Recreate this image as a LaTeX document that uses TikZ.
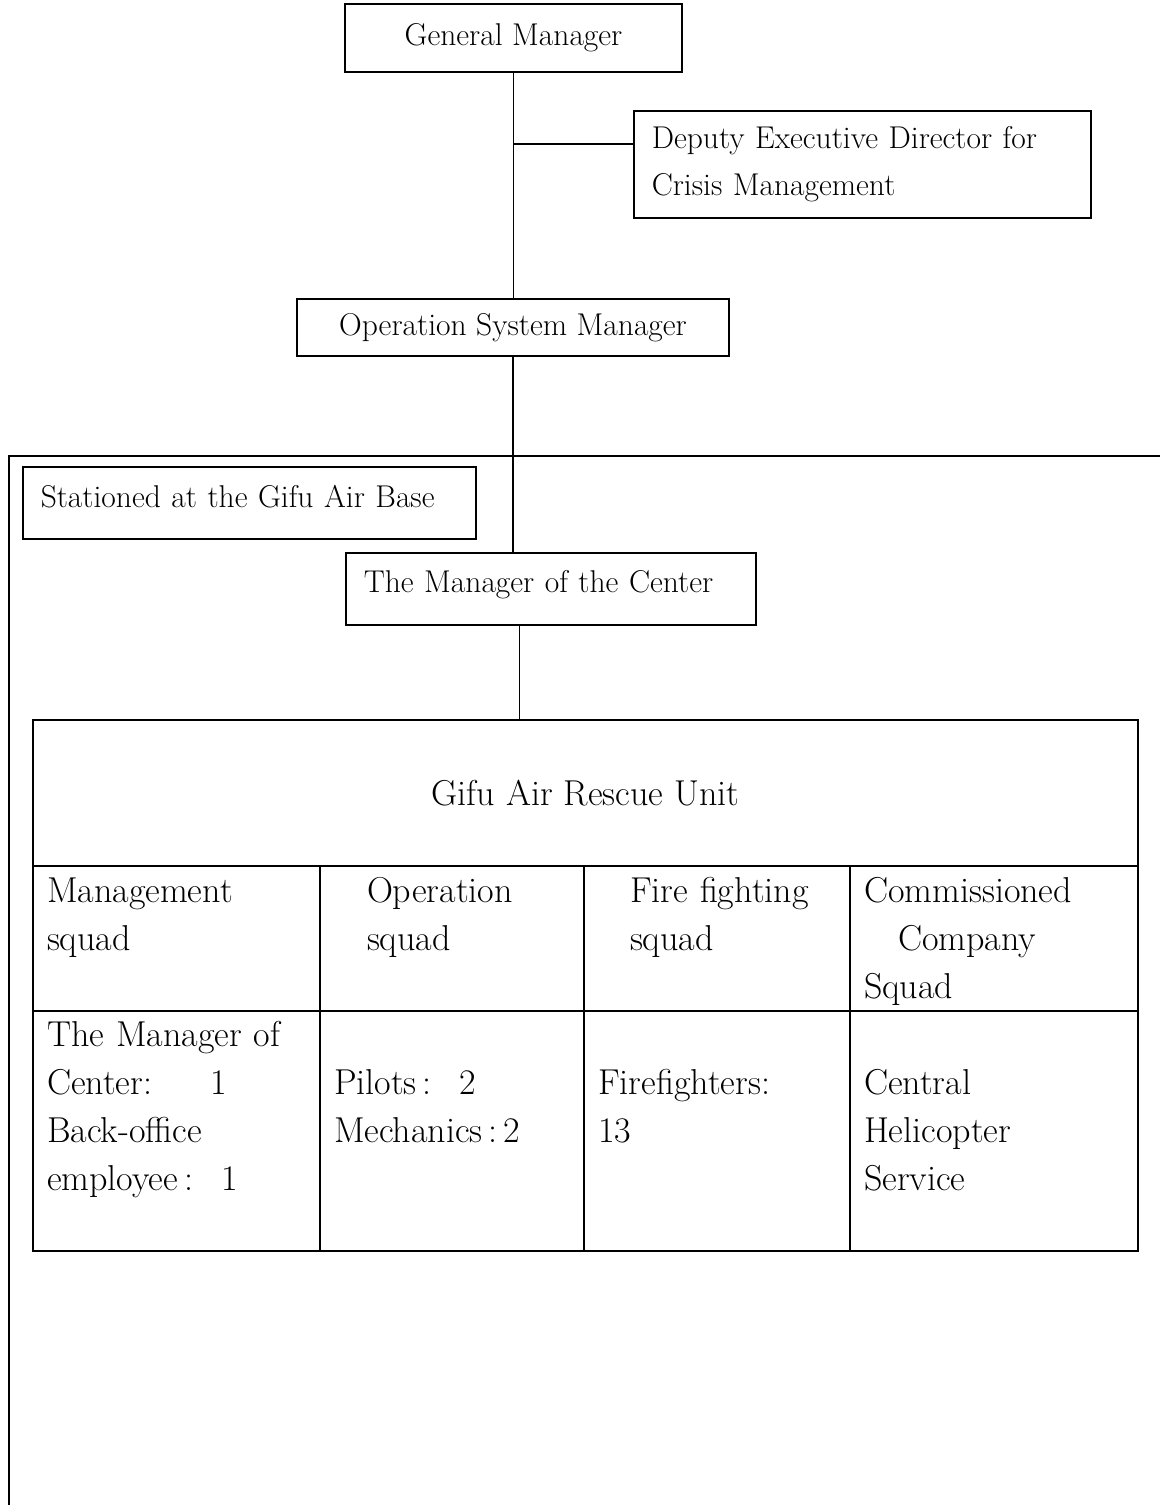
\documentclass[tikz,border=0pt]{standalone}
\usepackage{fontspec}
\usetikzlibrary{positioning}
\newcommand\orgfont{\fontsize{31.5}{47}\selectfont}
\newcommand\tabfont{\fontsize{36}{48}\selectfont}

\begin{document}
\begin{tikzpicture}[x=1pt, y=-1pt,
		box/.style={draw, line width=1.5pt, inner sep=0pt, font=\orgfont},
		leftbox/.style={box, anchor=north west, inner xsep=18pt, align=left},
		cell/.style={draw, line width=1.5pt, outer sep=0pt, anchor=north west, inner xsep=14pt, inner ysep=0pt, align=left, font=\tabfont},
		headcell/.style={cell, text height=36pt, text depth=109pt},
		datacell/.style={cell, text height=35pt, text depth=205pt},
		link/.style={line width=1.3pt}]
		\useasboundingbox (0,0) rectangle (1160,1505);

		\node[box, minimum width=337pt, minimum height=68pt] (gm) at (513.5,38) {General Manager};
		\node[leftbox, text width=421pt, minimum height=107pt] (deputy) at (633,110) {Deputy Executive Director for\\Crisis Management};
		\node[box, minimum width=432pt, minimum height=57pt] (osm) at (513,327.5) {Operation System Manager};

		\draw[line width=1.5pt] (1160,456) -- (9,456) -- (9,1505);
		\node[leftbox, text width=417pt, text height=41pt, text depth=31pt] (base) at (22,466) {Stationed at the Gifu Air Base};
		\node[leftbox, text width=374pt, text height=40pt, text depth=32pt] (mgr) at (345,552) {The Manager of the Center};

		\node[cell, align=center, inner sep=0pt, minimum width=1105pt, minimum height=146pt] (unit) at (33,720) {Gifu Air Rescue Unit};
		\node[headcell, text width=259pt] (mgmt) at (unit.south west) {Management\\squad};
		\node[headcell, text width=236pt] (ops) at (mgmt.north east) {\hspace*{33pt}Operation\\\hspace*{33pt}squad};
		\node[headcell, text width=238pt] (fire) at (ops.north east) {\hspace*{32pt}Fire fighting\\\hspace*{32pt}squad};
		\node[headcell, text width=260pt] (company) at (fire.north east) {Commissioned\\\hspace*{34pt}Company\\Squad};
		\node[datacell, text width=259pt] (staff) at (mgmt.south west) {The Manager of\\Center:\hspace{58pt}1\\Back-office\\employee\,:\hspace{28pt}1};
		\node[datacell, text width=236pt, text height=83pt, text depth=157pt] (crew) at (ops.south west) {Pilots\,:\hspace{28pt}2\\Mechanics\,:\,2};
		\node[datacell, text width=238pt, text height=83pt, text depth=157pt] (fighters) at (fire.south west) {Firefighters:\\13};
		\node[datacell, text width=260pt, text height=83pt, text depth=157pt] (heli) at (company.south west) {Central\\Helicopter\\Service};

		\coordinate (split) at (513,144);
		\draw[link] (gm.south) -- (gm.south |- osm.north);
		\draw[link] (split) -- (split -| deputy.west);
		\draw[link] (osm.south) -- (osm.south |- mgr.north);
		\draw[link] ([xshift=-31pt]mgr.south) -- ([xshift=-31pt]mgr.south |- unit.north);
	\end{tikzpicture}
\end{document}
